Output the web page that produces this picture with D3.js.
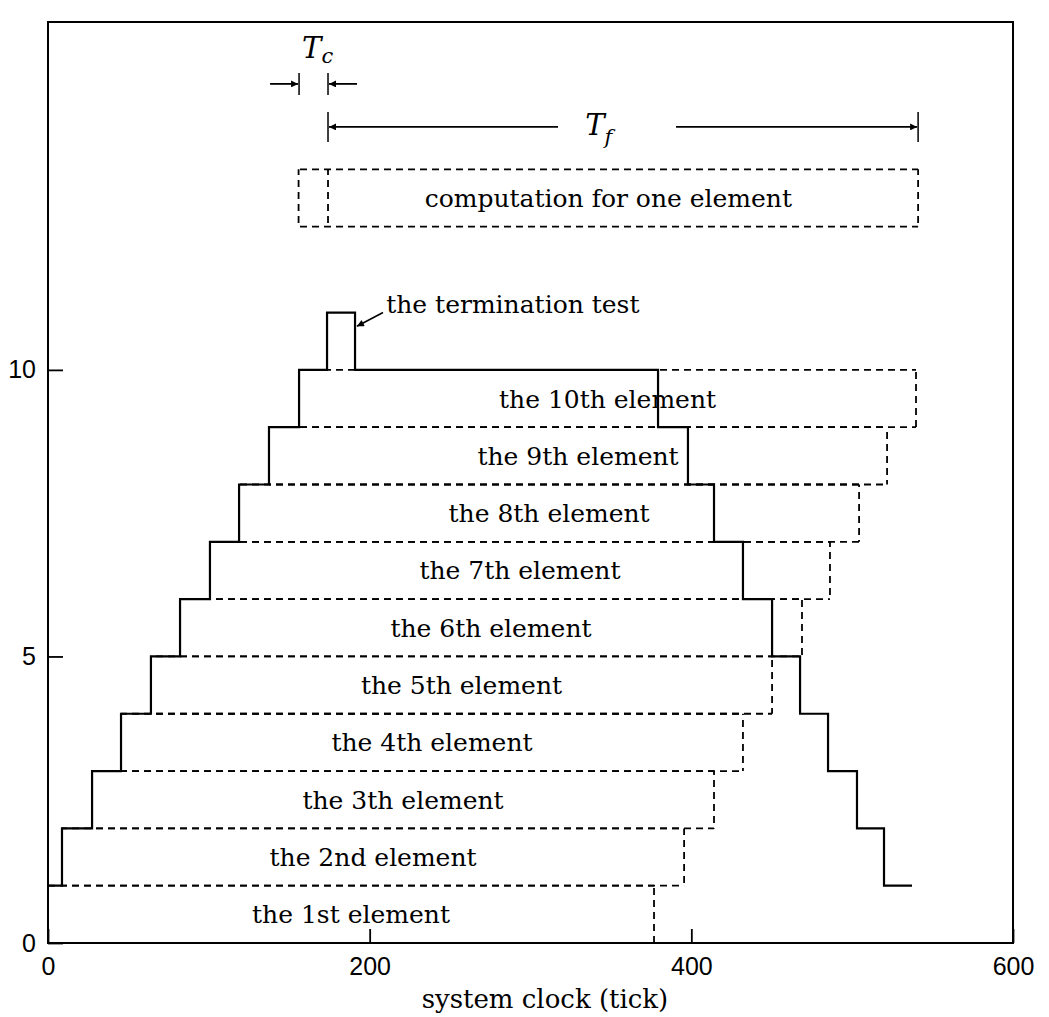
<!DOCTYPE html>
<html>
<head>
<meta charset="utf-8">
<script src="https://cdn.jsdelivr.net/npm/d3@7"></script>
<style>
  html, body { margin: 0; padding: 0; background: #fff; }
  svg text { fill: #000; }
</style>
</head>
<body>
<script>
// Pipeline schedule of ten elements on the system clock.
const elementLabels = ["the 1st element", "the 2nd element", "the 3th element", "the 4th element",
  "the 5th element", "the 6th element", "the 7th element", "the 8th element",
  "the 9th element", "the 10th element"];
const elementStart = [0, 8.7, 27.4, 45.4, 64.0, 82.1, 100.7, 118.8, 137.4, 156.1];
const elementEnd = [376.8, 395.5, 414.1, 432.1, 450.2, 468.8, 486.2, 504.3, 521.7, 539.7];

// Outline of the number of busy stages (step after each time)
const profileTime = [0, 8.7, 27.4, 45.4, 64.0, 82.1, 100.7, 118.8, 137.4, 156.1, 173.5, 190.9,
  379.3, 397.9, 414.1, 432.1, 450.2, 467.6, 485.0, 503.0, 519.8, 537.2];
const profileLevel = [1, 2, 3, 4, 5, 6, 7, 8, 9, 10, 11, 10, 9, 8, 7, 6, 5, 4, 3, 2, 1, 1];

// One element's computation: termination test part and the rest
const compSpan = [155.8, 174.1, 541.0];   // start, split, end
const compBand = [12.5, 13.5];
const tcSpan = [156.1, 174.1];
const tfSpan = [174.1, 541.0];

const xTicks = [0, 200, 400, 600];
const yTicks = [0, 5, 10];

const W = 1049, H = 1017;
const x = d3.scaleLinear().domain([0, 600]).range([48, 1013]);
const y = d3.scaleLinear().domain([0, 16.07]).range([943, 22]);

const svg = d3.select("body").append("svg").attr("width", W).attr("height", H);

const serif = "'DejaVu Serif', serif";
const sansNarrow = "'Liberation Sans Narrow', 'Liberation Sans', sans-serif";
const DASH = 7, GAP = 5, PERIOD = DASH + GAP;

// arrowhead marker
svg.append("defs").append("marker")
  .attr("id", "head").attr("viewBox", "0 0 10 10").attr("refX", 10).attr("refY", 5)
  .attr("markerWidth", 10).attr("markerHeight", 7).attr("markerUnits", "userSpaceOnUse")
  .attr("orient", "auto")
  .append("path").attr("d", "M0,0 L10,5 L0,10 z").attr("fill", "#000");

// ---- dashed element boxes (segments aligned to a common dash grid) ----
const segs = [];
elementStart.forEach((s, k) => {
  const e = elementEnd[k];
  segs.push({x1: s, y1: k + 1, x2: e, y2: k + 1});   // top
  segs.push({x1: s, y1: k, x2: e, y2: k});           // bottom
  segs.push({x1: s, y1: k, x2: s, y2: k + 1});       // left
  segs.push({x1: e, y1: k, x2: e, y2: k + 1});       // right
});
// computation box
segs.push({x1: compSpan[0], y1: compBand[1], x2: compSpan[2], y2: compBand[1]});
segs.push({x1: compSpan[0], y1: compBand[0], x2: compSpan[2], y2: compBand[0]});
segs.push({x1: compSpan[0], y1: compBand[0], x2: compSpan[0], y2: compBand[1]});
segs.push({x1: compSpan[1], y1: compBand[0], x2: compSpan[1], y2: compBand[1]});
segs.push({x1: compSpan[2], y1: compBand[0], x2: compSpan[2], y2: compBand[1]});

svg.append("g").selectAll("line").data(segs).join("line")
  .attr("x1", d => x(d.x1)).attr("y1", d => y(Math.max(d.y1, d.y2)))
  .attr("x2", d => x(d.x2)).attr("y2", d => y(Math.min(d.y1, d.y2)))
  .attr("stroke", "#000").attr("stroke-width", 1.8)
  .attr("stroke-dasharray", `${DASH},${GAP}`)
  .attr("stroke-dashoffset", d => d.y1 === d.y2 ? (x(d.x1) % PERIOD) : (y(Math.max(d.y1, d.y2)) % PERIOD));

// ---- solid outline ----
const profile = profileTime.map((t, i) => [t, profileLevel[i]]);
svg.append("path")
  .attr("d", d3.line().x(d => x(d[0])).y(d => y(d[1])).curve(d3.curveStepAfter)(profile))
  .attr("fill", "none").attr("stroke", "#000").attr("stroke-width", 2.2);

// ---- element labels ----
svg.append("g").selectAll("text").data(elementLabels).join("text")
  .attr("x", (d, k) => x((elementStart[k] + elementEnd[k]) / 2))
  .attr("y", (d, k) => y(k + 0.5) + 9)
  .attr("text-anchor", "middle")
  .attr("font-family", serif).attr("font-size", 25)
  .text(d => d);

svg.append("text")
  .attr("x", x((compSpan[0] + compSpan[2]) / 2)).attr("y", y((compBand[0] + compBand[1]) / 2) + 9)
  .attr("text-anchor", "middle").attr("font-family", serif).attr("font-size", 25)
  .text("computation for one element");

// termination test label and pointer
svg.append("text")
  .attr("x", x(210.3)).attr("y", y(11.0))
  .attr("font-family", serif).attr("font-size", 25)
  .text("the termination test");
svg.append("line")
  .attr("x1", x(208.3)).attr("y1", y(11.0)).attr("x2", x(192.1)).attr("y2", y(10.76))
  .attr("stroke", "#000").attr("stroke-width", 1.6).attr("marker-end", "url(#head)");

// ---- Tc dimension ----
const tcLevel = 14.99, tfLevel = 14.24;
tcSpan.forEach(t => {
  svg.append("line").attr("x1", x(t)).attr("x2", x(t))
    .attr("y1", y(tcLevel) - 11).attr("y2", y(tcLevel) + 11)
    .attr("stroke", "#000").attr("stroke-width", 1.5);
});
svg.append("line").attr("x1", x(tcSpan[0]) - 29).attr("x2", x(tcSpan[0]) - 1)
  .attr("y1", y(tcLevel)).attr("y2", y(tcLevel))
  .attr("stroke", "#000").attr("stroke-width", 1.8).attr("marker-end", "url(#head)");
svg.append("line").attr("x1", x(tcSpan[1]) + 29).attr("x2", x(tcSpan[1]) + 1)
  .attr("y1", y(tcLevel)).attr("y2", y(tcLevel))
  .attr("stroke", "#000").attr("stroke-width", 1.8).attr("marker-end", "url(#head)");
const tcText = svg.append("text").attr("x", x(tcSpan[0]) + 3).attr("y", y(tcLevel) - 26)
  .attr("font-family", serif).attr("font-style", "italic").attr("font-size", 29);
tcText.append("tspan").text("T");
tcText.append("tspan").attr("dy", 5).attr("font-size", 21).text("c");

// ---- Tf dimension ----
tfSpan.forEach(t => {
  svg.append("line").attr("x1", x(t)).attr("x2", x(t))
    .attr("y1", y(tfLevel) - 15).attr("y2", y(tfLevel) + 15)
    .attr("stroke", "#000").attr("stroke-width", 1.5);
});
svg.append("line").attr("x1", x(317.1)).attr("x2", x(tfSpan[0]) + 1)
  .attr("y1", y(tfLevel)).attr("y2", y(tfLevel))
  .attr("stroke", "#000").attr("stroke-width", 1.8).attr("marker-end", "url(#head)");
svg.append("line").attr("x1", x(390.5)).attr("x2", x(tfSpan[1]) - 1)
  .attr("y1", y(tfLevel)).attr("y2", y(tfLevel))
  .attr("stroke", "#000").attr("stroke-width", 1.8).attr("marker-end", "url(#head)");
const tfText = svg.append("text").attr("x", x(334.0)).attr("y", y(tfLevel) + 8)
  .attr("font-family", serif).attr("font-style", "italic").attr("font-size", 29);
tfText.append("tspan").text("T");
tfText.append("tspan").attr("dy", 9).attr("font-size", 21).text("f");

// ---- axes and frame ----
const xAxis = d3.axisBottom(x).tickValues(xTicks).tickFormat(d3.format("d"))
  .tickSizeInner(-14).tickSizeOuter(0).tickPadding(14);
const gx = svg.append("g").attr("transform", `translate(0,${y(0)})`).call(xAxis);
const yAxis = d3.axisLeft(y).tickValues(yTicks).tickFormat(d3.format("d"))
  .tickSizeInner(-15).tickSizeOuter(0).tickPadding(12);
const gy = svg.append("g").attr("transform", `translate(${x(0)},0)`).call(yAxis);
[gx, gy].forEach(g => {
  g.select(".domain").remove();
  g.selectAll(".tick line").attr("stroke", "#000").attr("stroke-width", 1.8);
  g.selectAll(".tick text").attr("font-family", sansNarrow).attr("font-size", 25).attr("fill", "#000");
});

svg.append("rect")
  .attr("x", x(0)).attr("y", y(16.07))
  .attr("width", x(600) - x(0)).attr("height", y(0) - y(16.07))
  .attr("fill", "none").attr("stroke", "#000").attr("stroke-width", 2);

svg.append("text")
  .attr("x", x(309)).attr("y", 1008)
  .attr("text-anchor", "middle").attr("font-family", serif).attr("font-size", 26)
  .text("system clock (tick)");
</script>
</body>
</html>
